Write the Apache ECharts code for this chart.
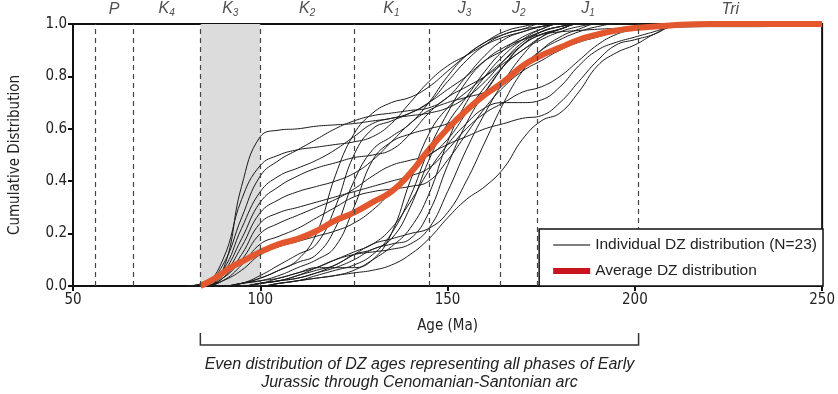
<!DOCTYPE html>
<html><head><meta charset="utf-8">
<script src="https://cdn.jsdelivr.net/npm/echarts@6/dist/echarts.min.js"></script>
<style>html,body{margin:0;padding:0;background:#fff}#c{width:838px;height:394px}</style>
</head><body><div id="c"></div>
<script>
// ---------- DATA ----------
const ages = [80,85,90,95,100,105,110,115,120,125,130,135,140,145,150,155,160,165,170,175,180,185,190,195,200,205,210,220,230,240,250];

const dz01 = [0,0.01,0.06,0.38,0.57,0.595,0.60,0.61,0.615,0.62,0.63,0.64,0.66,0.70,0.75,0.80,0.86,0.90,0.94,0.97,0.99,1,1,1,1,1,1,1,1,1,1];
const dz02 = [0,0.01,0.10,0.33,0.46,0.50,0.52,0.53,0.54,0.55,0.57,0.62,0.70,0.78,0.84,0.88,0.92,0.95,0.97,0.99,1,1,1,1,1,1,1,1,1,1,1];
const dz03 = [0,0.01,0.08,0.26,0.42,0.48,0.52,0.56,0.60,0.63,0.65,0.66,0.67,0.68,0.72,0.80,0.88,0.94,0.97,0.99,1,1,1,1,1,1,1,1,1,1,1];
const dz04 = [0,0.01,0.06,0.22,0.36,0.42,0.45,0.48,0.52,0.57,0.62,0.64,0.65,0.66,0.68,0.72,0.78,0.86,0.93,0.97,0.99,1,1,1,1,1,1,1,1,1,1];
const dz05 = [0,0,0.05,0.18,0.32,0.38,0.42,0.45,0.47,0.49,0.50,0.52,0.58,0.66,0.72,0.76,0.80,0.85,0.90,0.95,0.98,1,1,1,1,1,1,1,1,1,1];
const dz06 = [0,0,0.04,0.15,0.28,0.33,0.36,0.38,0.40,0.43,0.48,0.55,0.62,0.67,0.70,0.72,0.74,0.78,0.84,0.90,0.94,0.97,0.99,1,1,1,1,1,1,1,1];
const dz07 = [0,0,0.03,0.12,0.24,0.28,0.30,0.32,0.34,0.36,0.38,0.40,0.42,0.45,0.52,0.60,0.66,0.70,0.74,0.76,0.80,0.86,0.92,0.96,0.98,0.99,1,1,1,1,1];
const dz08 = [0,0,0.03,0.10,0.20,0.24,0.27,0.30,0.33,0.37,0.42,0.46,0.48,0.50,0.56,0.66,0.76,0.84,0.90,0.94,0.97,0.99,1,1,1,1,1,1,1,1,1];
const dz09 = [0,0,0.02,0.08,0.16,0.19,0.22,0.26,0.30,0.34,0.36,0.37,0.38,0.40,0.48,0.58,0.68,0.76,0.82,0.86,0.90,0.93,0.95,0.97,0.99,1,1,1,1,1,1];
const dz10 = [0,0,0.02,0.06,0.12,0.15,0.17,0.19,0.21,0.24,0.29,0.36,0.44,0.50,0.54,0.57,0.60,0.62,0.64,0.65,0.70,0.78,0.86,0.92,0.94,0.96,0.99,1,1,1,1];
const dz11 = [0,0,0,0.01,0.03,0.06,0.10,0.20,0.42,0.58,0.66,0.70,0.72,0.76,0.82,0.88,0.93,0.96,0.98,0.99,1,1,1,1,1,1,1,1,1,1,1];
const dz12 = [0,0,0,0.01,0.04,0.08,0.12,0.16,0.30,0.50,0.60,0.63,0.66,0.70,0.78,0.86,0.92,0.96,0.98,1,1,1,1,1,1,1,1,1,1,1,1];
const dz13 = [0,0,0,0.01,0.03,0.06,0.09,0.12,0.22,0.40,0.52,0.57,0.62,0.70,0.80,0.88,0.93,0.97,0.99,1,1,1,1,1,1,1,1,1,1,1,1];
const dz14 = [0,0,0,0.01,0.02,0.04,0.07,0.10,0.15,0.30,0.48,0.55,0.58,0.60,0.62,0.66,0.74,0.84,0.92,0.96,0.98,1,1,1,1,1,1,1,1,1,1];
const dz15 = [0,0,0,0,0.01,0.03,0.05,0.07,0.07,0.07,0.10,0.20,0.40,0.58,0.68,0.74,0.80,0.86,0.92,0.96,0.98,1,1,1,1,1,1,1,1,1,1];
const dz16 = [0,0,0,0,0.01,0.02,0.04,0.06,0.08,0.12,0.14,0.18,0.30,0.48,0.62,0.72,0.82,0.90,0.95,0.98,1,1,1,1,1,1,1,1,1,1,1];
const dz17 = [0,0,0,0,0.01,0.02,0.03,0.05,0.07,0.10,0.14,0.16,0.18,0.28,0.46,0.62,0.74,0.84,0.92,0.97,0.99,1,1,1,1,1,1,1,1,1,1];
const dz18 = [0,0,0,0,0,0.01,0.02,0.03,0.04,0.06,0.10,0.15,0.22,0.35,0.55,0.70,0.80,0.88,0.94,0.98,1,1,1,1,1,1,1,1,1,1,1];
const dz19 = [0,0,0,0,0.01,0.02,0.03,0.05,0.08,0.12,0.16,0.18,0.20,0.22,0.28,0.40,0.55,0.70,0.82,0.90,0.95,0.98,1,1,1,1,1,1,1,1,1];
const dz20 = [0,0,0,0,0,0.01,0.02,0.03,0.04,0.05,0.06,0.08,0.12,0.18,0.26,0.33,0.38,0.45,0.56,0.63,0.66,0.74,0.84,0.89,0.92,0.96,0.99,1,1,1,1];
const dz21 = [0,0,0,0.01,0.02,0.03,0.05,0.07,0.10,0.13,0.16,0.22,0.32,0.44,0.54,0.62,0.68,0.70,0.70,0.71,0.76,0.84,0.90,0.93,0.95,0.97,0.99,1,1,1,1];
const dz22 = [0,0,0,0,0.01,0.02,0.04,0.07,0.10,0.12,0.13,0.14,0.16,0.22,0.36,0.52,0.66,0.78,0.88,0.95,0.98,1,1,1,1,1,1,1,1,1,1];
const dz23 = [0,0,0,0,0,0.01,0.02,0.04,0.06,0.08,0.12,0.20,0.34,0.52,0.66,0.78,0.86,0.91,0.94,0.96,0.97,0.975,0.98,0.983,0.985,0.987,0.988,0.99,0.99,0.992,1];

const avgAges   = [84,88,92,96,100,105,110,115,120,125,130,135,140,145,150,155,160,165,170,175,180,185,190,195,200,210,220,250];
const avgValues = [0,0.03,0.07,0.10,0.13,0.16,0.18,0.21,0.25,0.28,0.32,0.36,0.43,0.52,0.60,0.67,0.73,0.78,0.84,0.88,0.91,0.94,0.96,0.975,0.985,0.995,1,1];

const boundaries = [56,66,84,100,125,145,164,174,201];
const bandRange = [84,100];
const periodMain = ['P','K','K','K','K','J','J','J','Tri'];
const periodSub  = ['','4','3','2','1','3','2','1',''];
const periodCenters = [61,75,92,112.5,135,154.5,169,187.5,225.5];
const xTicks = [50,250,50];      // min, max, interval
const yTicks = [0,1,0.2];
const bracketAges = [84,201];
const bracketText = 'Even distribution of DZ ages representing all phases of Early\nJurassic through Cenomanian-Santonian arc';
const nameInd = 'Individual DZ distribution (N=23)';
const nameAvg = 'Average DZ distribution';

// ---------- CHART ----------
const individual = [dz01,dz02,dz03,dz04,dz05,dz06,dz07,dz08,dz09,dz10,dz11,dz12,dz13,dz14,dz15,dz16,dz17,dz18,dz19,dz20,dz21,dz22,dz23];
const FONT = "'Liberation Sans Narrow','DejaVu Sans Condensed','Liberation Sans',sans-serif";
const FONT2 = "'Liberation Sans',Arial,sans-serif";
const chart = echarts.init(document.getElementById('c'), null, {renderer:'canvas'});

const series = [];
series.push({
  type:'line', name:'bands', data:[], z:1, silent:true, symbol:'none',
  markArea:{silent:true, itemStyle:{color:'#dcdcdc'}, data:[[{xAxis:bandRange[0]},{xAxis:bandRange[1]}]]},
  markLine:{silent:true, symbol:'none', label:{show:false},
    lineStyle:{color:'#444', width:1.2, type:[5,4]},
    data: boundaries.map(b=>({xAxis:b}))}
});
individual.forEach(vals=>{
  series.push({
    type:'line', name:nameInd, data:ages.map((a,j)=>[a,vals[j]]),
    smooth:0.45, symbol:'none', showSymbol:false, silent:true, z:2,
    color:'#555', lineStyle:{color:'#1c1c1c', width:1}
  });
});
series.push({
  type:'line', name:nameAvg, data:avgAges.map((a,j)=>[a,avgValues[j]]),
  smooth:0.45, symbol:'none', showSymbol:false, silent:true, z:3,
  color:'#c8141e', lineStyle:{color:'#e2572d', width:6}
});
series.push({
  type:'scatter', name:'periods', data:periodCenters.map(c=>[c,1]), symbolSize:0, clip:false, silent:true, z:3,
  label:{show:true, position:'top', distance:6,
    formatter:p=>'{m|'+periodMain[p.dataIndex]+'}'+(periodSub[p.dataIndex]?'{s|'+periodSub[p.dataIndex]+'}':''),
    rich:{
      m:{fontSize:16, fontStyle:'italic', color:'#222', fontFamily:FONT2},
      s:{fontSize:10, fontStyle:'italic', color:'#222', fontFamily:FONT2, padding:[9,0,0,0]}
    }}
});

chart.setOption({
  animation:false,
  backgroundColor:'#fff',
  grid:{left:72, right:15, top:24, bottom:108, show:true, borderColor:'#111', borderWidth:2, backgroundColor:'transparent'},
  legend:{
    right:15, bottom:108, orient:'vertical', selectedMode:false, z:10,
    data:[
      {name:nameInd, itemStyle:{opacity:0}, lineStyle:{color:'#555', width:1.5}},
      {name:nameAvg, itemStyle:{opacity:0}, lineStyle:{color:'#c8141e', width:6}}
    ],
    itemWidth:37, itemHeight:14, itemGap:10, padding:[8,6,7,11],
    borderColor:'#111', borderWidth:1.5, borderRadius:0, backgroundColor:'#fff',
    textStyle:{fontFamily:FONT2, fontSize:15.5, color:'#222'}
  },
  xAxis:{type:'value', min:xTicks[0], max:xTicks[1], interval:xTicks[2],
    name:'Age (Ma)', nameLocation:'middle', nameGap:33,
    nameTextStyle:{fontSize:15, fontFamily:FONT, color:'#222'},
    axisLine:{show:true, lineStyle:{color:'#111', width:2}},
    axisTick:{show:true, length:5, lineStyle:{color:'#111', width:2}},
    axisLabel:{fontSize:15, fontFamily:FONT, color:'#222', margin:7},
    splitLine:{show:false}},
  yAxis:{type:'value', min:yTicks[0], max:yTicks[1], interval:yTicks[2],
    name:'Cumulative Distribution', nameLocation:'middle', nameGap:50,
    nameTextStyle:{fontSize:15, fontFamily:FONT, color:'#222'},
    axisLine:{show:true, lineStyle:{color:'#111', width:2}},
    axisTick:{show:true, length:5, lineStyle:{color:'#111', width:2}},
    axisLabel:{fontSize:15, fontFamily:FONT, color:'#222', margin:6, formatter:v=>v.toFixed(1)},
    splitLine:{show:false}},
  series:series
});

const xL = chart.convertToPixel({xAxisIndex:0}, bracketAges[0]);
const xR = chart.convertToPixel({xAxisIndex:0}, bracketAges[1]);
chart.setOption({graphic:[
  {type:'polyline', silent:true, shape:{points:[[xL,333],[xL,345],[xR,345],[xR,333]]}, style:{stroke:'#333', lineWidth:1.5, fill:null}},
  {type:'text', silent:true, x:(xL+xR)/2, y:356, style:{text:bracketText, align:'center', verticalAlign:'top', font:"italic 16px 'Liberation Sans', Arial, sans-serif", fill:'#222', lineHeight:18}}
]});
</script></body></html>
